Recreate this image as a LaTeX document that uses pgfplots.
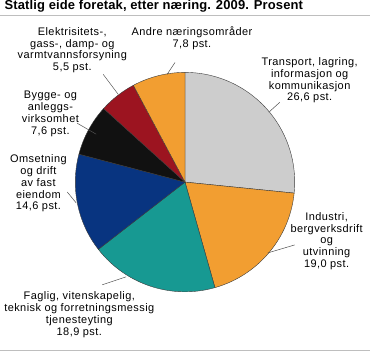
\documentclass[border=0pt]{standalone}
\usepackage{pgfplots}
\pgfplotsset{compat=1.18}
\usepackage{fontspec}
\setmainfont{Liberation Sans}
\definecolor{cgray}{RGB}{205,205,205}
\definecolor{corange}{RGB}{242,158,49}
\definecolor{cteal}{RGB}{23,153,146}
\definecolor{cblue}{RGB}{8,52,128}
\definecolor{cblack}{RGB}{17,17,17}
\definecolor{cred}{RGB}{156,20,32}
\definecolor{cedge}{RGB}{60,60,60}
\definecolor{crule}{RGB}{190,190,190}
\definecolor{clead}{RGB}{80,80,80}
\tikzset{lbl/.style={font=\fontsize{11}{11.8}\selectfont\addfontfeature{LetterSpace=4},align=center,inner sep=0pt,text=black}}
\begin{document}
\begin{tikzpicture}
\begin{axis}[width=370pt,height=359pt,scale only axis,xmin=0,xmax=370,ymin=0,ymax=359,hide axis,clip=false]
% shares in percent: 26.6, 19.0, 18.9, 14.6, 7.6, 5.5, 7.8 (clockwise from top), 1 pct = 3.6 deg
\addplot[fill=cgray,draw=cedge,line width=0.4pt,mark=none] coordinates {(185,171)} -- ++(90:110pt) arc[start angle=90,delta angle=-3.6*26.6,radius=110pt] -- cycle;
\addplot[fill=corange,draw=cedge,line width=0.4pt,mark=none] coordinates {(185,171)} -- ++(90-3.6*26.6:110pt) arc[start angle=90-3.6*26.6,delta angle=-3.6*19.0,radius=110pt] -- cycle;
\addplot[fill=cteal,draw=cedge,line width=0.4pt,mark=none] coordinates {(185,171)} -- ++(90-3.6*45.6:110pt) arc[start angle=90-3.6*45.6,delta angle=-3.6*18.9,radius=110pt] -- cycle;
\addplot[fill=cblue,draw=cedge,line width=0.4pt,mark=none] coordinates {(185,171)} -- ++(90-3.6*64.5:110pt) arc[start angle=90-3.6*64.5,delta angle=-3.6*14.6,radius=110pt] -- cycle;
\addplot[fill=cblack,draw=cedge,line width=0.4pt,mark=none] coordinates {(185,171)} -- ++(90-3.6*79.1:110pt) arc[start angle=90-3.6*79.1,delta angle=-3.6*7.6,radius=110pt] -- cycle;
\addplot[fill=cred,draw=cedge,line width=0.4pt,mark=none] coordinates {(185,171)} -- ++(90-3.6*86.7:110pt) arc[start angle=90-3.6*86.7,delta angle=-3.6*5.5,radius=110pt] -- cycle;
\addplot[fill=corange,draw=cedge,line width=0.4pt,mark=none] coordinates {(185,171)} -- ++(90-3.6*92.2:110pt) arc[start angle=90-3.6*92.2,delta angle=-3.6*7.8,radius=110pt] -- cycle;
% leader lines
\addplot[clead,line width=0.5pt,mark=none] coordinates {(103,279) (118,259)};
\addplot[clead,line width=0.5pt,mark=none] coordinates {(175,291) (167,279)};
\addplot[clead,line width=0.5pt,mark=none] coordinates {(77,230) (96,219)};
\addplot[clead,line width=0.5pt,mark=none] coordinates {(280,251) (269,241)};
\addplot[clead,line width=0.5pt,mark=none] coordinates {(67,161) (76,150)};
\addplot[clead,line width=0.5pt,mark=none] coordinates {(295,108) (268,100)};
\addplot[clead,line width=0.5pt,mark=none] coordinates {(102,68) (126,76)};
% rules
\addplot[crule,line width=1pt,mark=none] coordinates {(0,338.5) (370,338.5)};
\addplot[crule,line width=1pt,mark=none] coordinates {(0,2) (370,2)};
% title
\node[anchor=west,font=\fontsize{13}{15}\selectfont\bfseries\addfontfeature{LetterSpace=1},inner sep=0pt] at (axis cs:4,347.5) {Statlig eide foretak, etter næring. 2009. Prosent};
% labels
\node[lbl] at (axis cs:72,303.3) {Elektrisitets-,\\gass-, damp- og\\varmtvannsforsyning\\5,5 pst.};
\node[lbl] at (axis cs:192,315) {Andre næringsområder\\7,8 pst.};
\node[lbl] at (axis cs:310,273) {Transport, lagring,\\informasjon og\\kommunikasjon\\26,6 pst.};
\node[lbl] at (axis cs:50,239.5) {Bygge- og\\anleggs-\\virksomhet\\7,6 pst.};
\node[lbl] at (axis cs:38,169.5) {Omsetning\\og drift\\av fast\\eiendom\\14,6 pst.};
\node[lbl] at (axis cs:327,112) {Industri,\\bergverksdrift\\og\\utvinning\\19,0 pst.};
\node[lbl] at (axis cs:79,38) {Faglig, vitenskapelig,\\teknisk og forretningsmessig\\tjenesteyting\\18,9 pst.};
\end{axis}
\end{tikzpicture}
\end{document}
